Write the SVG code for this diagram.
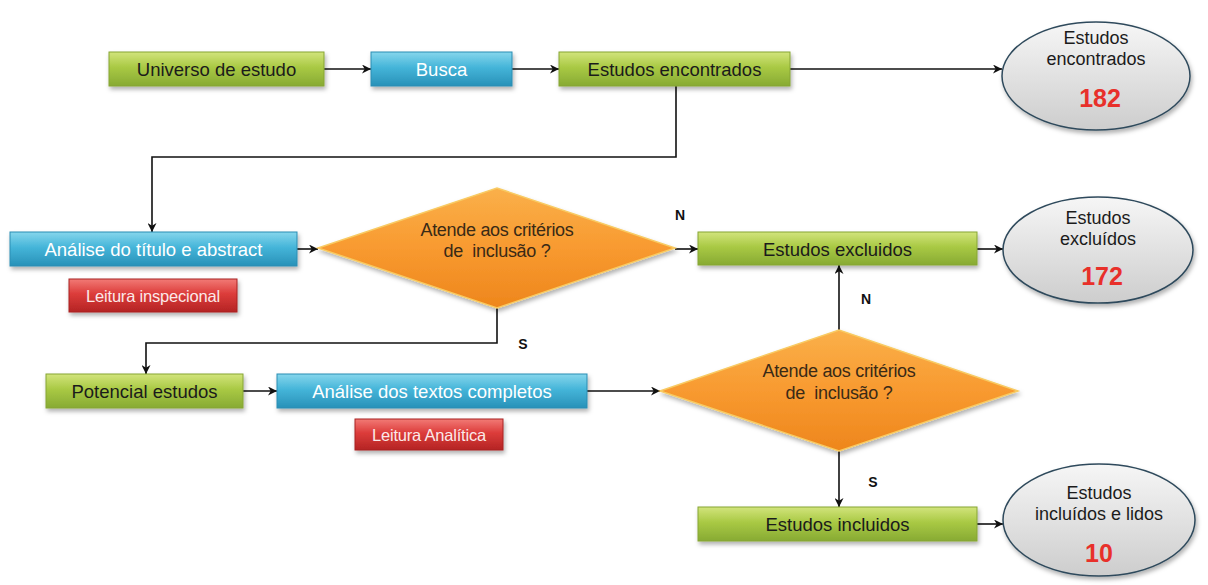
<svg xmlns="http://www.w3.org/2000/svg" width="1208" height="585" viewBox="0 0 1208 585">
  <defs>
    <linearGradient id="gGreen" x1="0" y1="0" x2="0" y2="1">
      <stop offset="0" stop-color="#d2e47c"/>
      <stop offset="0.45" stop-color="#a9c944"/>
      <stop offset="1" stop-color="#87aa33"/>
    </linearGradient>
    <linearGradient id="gBlue" x1="0" y1="0" x2="0" y2="1">
      <stop offset="0" stop-color="#86d6ec"/>
      <stop offset="0.45" stop-color="#45b5d9"/>
      <stop offset="1" stop-color="#2891b8"/>
    </linearGradient>
    <linearGradient id="gRed" x1="0" y1="0" x2="0" y2="1">
      <stop offset="0" stop-color="#f27a76"/>
      <stop offset="0.45" stop-color="#dc3c3a"/>
      <stop offset="1" stop-color="#b42424"/>
    </linearGradient>
    <linearGradient id="gOrange" x1="0" y1="0" x2="0" y2="1">
      <stop offset="0" stop-color="#fab04a"/>
      <stop offset="0.5" stop-color="#f89a30"/>
      <stop offset="1" stop-color="#ee861c"/>
    </linearGradient>
    <linearGradient id="gGray" x1="0" y1="0" x2="0" y2="1">
      <stop offset="0" stop-color="#f6f6f6"/>
      <stop offset="1" stop-color="#cdcdcd"/>
    </linearGradient>
    <filter id="shadow" x="-10%" y="-20%" width="120%" height="150%">
      <feDropShadow dx="1.5" dy="3" stdDeviation="2" flood-color="#000" flood-opacity="0.3"/>
    </filter>
    <marker id="arrow" viewBox="0 0 10 10" refX="10" refY="5" markerWidth="9" markerHeight="9" markerUnits="userSpaceOnUse" orient="auto">
      <path d="M0,0 L10,5 L0,10 L3,5 z" fill="#111"/>
    </marker>
    <style>
      .box { stroke-width: 1; filter: url(#shadow); }
      .green { fill: url(#gGreen); stroke: #86a535; }
      .blue { fill: url(#gBlue); stroke: #2a8db3; }
      .red { fill: url(#gRed); stroke: #a82323; }
      .diamond { fill: url(#gOrange); stroke: #f8cb63; stroke-width: 1.5; filter: url(#shadow); }
      .oval { fill: url(#gGray); stroke: #2f4a5c; stroke-width: 1.5; filter: url(#shadow); }
      text { font-family: "Liberation Sans", Arial, sans-serif; text-anchor: middle; dominant-baseline: central; }
      .dark { fill: #1b1b1b; font-size: 18.5px; }
      .light { fill: #ffffff; font-size: 18.5px; }
      .oval-t { fill: #1b1b1b; font-size: 18px; }
      .tag { fill: #fbe9e9; font-size: 16.5px; letter-spacing: -0.2px; }
      .q { fill: #3a2a16; font-size: 18px; letter-spacing: -0.3px; }
      .num { fill: #e8302a; font-size: 25px; font-weight: bold; }
      .lbl { fill: #111; font-size: 14px; font-weight: bold; }
      .conn { fill: none; stroke: #111; stroke-width: 1.6; marker-end: url(#arrow); }
    </style>
  </defs>

  <!-- connectors -->
  <g id="connectors">
    <path class="conn" d="M324,69 H371"/>
    <path class="conn" d="M512,69 H559"/>
    <path class="conn" d="M790,69 H1002"/>
    <path class="conn" d="M676,86 V157 H152 V232"/>
    <path class="conn" d="M297,249 H318"/>
    <path class="conn" d="M675,249 H698"/>
    <path class="conn" d="M977,249 H1003"/>
    <path class="conn" d="M497,308 V343 H146 V374"/>
    <path class="conn" d="M243,391 H277"/>
    <path class="conn" d="M587,391 H660"/>
    <path class="conn" d="M839,330 V265"/>
    <path class="conn" d="M839,451 V507"/>
    <path class="conn" d="M977,524 H1003"/>
    <text class="lbl" x="680" y="215">N</text>
    <text class="lbl" x="866" y="299">N</text>
    <text class="lbl" x="523" y="344">S</text>
    <text class="lbl" x="873" y="482">S</text>
  </g>

  <!-- first row -->
  <g id="universo">
    <rect class="box green" x="109" y="52" width="215" height="34"/>
    <text class="dark" x="216.5" y="69">Universo de estudo</text>
  </g>
  <g id="busca">
    <rect class="box blue" x="371" y="52" width="141" height="34"/>
    <text class="light" x="441.5" y="69">Busca</text>
  </g>
  <g id="encontrados">
    <rect class="box green" x="559" y="52" width="231" height="34"/>
    <text class="dark" x="674.5" y="69">Estudos encontrados</text>
  </g>
  <g id="total-encontrados">
    <ellipse class="oval" cx="1096" cy="76" rx="94" ry="54"/>
    <text class="oval-t" x="1096" y="38">Estudos</text>
    <text class="oval-t" x="1096" y="59">encontrados</text>
    <text class="num" x="1100" y="98">182</text>
  </g>

  <!-- screening by title and abstract -->
  <g id="analise-titulo">
    <rect class="box blue" x="10" y="232" width="287" height="34"/>
    <text class="light" x="153.5" y="249">Análise do título e abstract</text>
  </g>
  <g id="leitura-inspecional">
    <rect class="box red" x="69" y="279" width="168" height="33"/>
    <text class="tag" x="153" y="296">Leitura inspecional</text>
  </g>
  <g id="decisao-1">
    <polygon class="diamond" points="318,248 497,188 675,248 497,308"/>
    <text class="q" x="497" y="230">Atende aos critérios</text>
    <text class="q" x="497" y="251" xml:space="preserve">de  inclusão ?</text>
  </g>
  <g id="excluidos">
    <rect class="box green" x="698" y="232" width="279" height="33"/>
    <text class="dark" x="837.5" y="249">Estudos excluidos</text>
  </g>
  <g id="total-excluidos">
    <ellipse class="oval" cx="1098" cy="250" rx="95" ry="53"/>
    <text class="oval-t" x="1098" y="218">Estudos</text>
    <text class="oval-t" x="1098" y="239">excluídos</text>
    <text class="num" x="1102" y="276">172</text>
  </g>

  <!-- full-text reading -->
  <g id="potencial">
    <rect class="box green" x="46" y="374" width="197" height="34"/>
    <text class="dark" x="144.5" y="391">Potencial estudos</text>
  </g>
  <g id="analise-textos">
    <rect class="box blue" x="277" y="374" width="310" height="34"/>
    <text class="light" x="432" y="391">Análise dos textos completos</text>
  </g>
  <g id="leitura-analitica">
    <rect class="box red" x="355" y="419" width="148" height="31"/>
    <text class="tag" x="429" y="435">Leitura Analítica</text>
  </g>
  <g id="decisao-2">
    <polygon class="diamond" points="660,391 839,330 1018,391 839,451"/>
    <text class="q" x="839" y="371">Atende aos critérios</text>
    <text class="q" x="839" y="393" xml:space="preserve">de  inclusão ?</text>
  </g>
  <g id="incluidos">
    <rect class="box green" x="698" y="507" width="279" height="34"/>
    <text class="dark" x="837.5" y="524">Estudos incluidos</text>
  </g>
  <g id="total-incluidos">
    <ellipse class="oval" cx="1099" cy="520" rx="96" ry="56"/>
    <text class="oval-t" x="1099" y="493">Estudos</text>
    <text class="oval-t" x="1099" y="514">incluídos e lidos</text>
    <text class="num" x="1099" y="553">10</text>
  </g>
</svg>
